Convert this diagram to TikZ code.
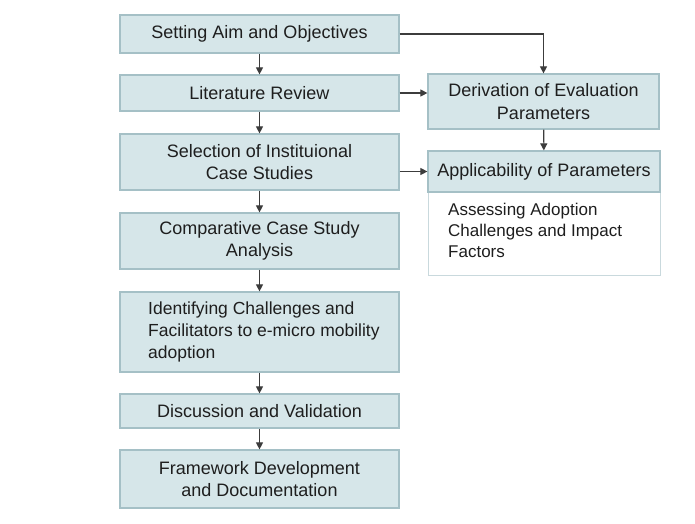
\documentclass[tikz,border=0pt]{standalone}
\usepackage{fontspec}
\setmainfont{Liberation Sans}
\usetikzlibrary{arrows.meta}
\definecolor{boxfill}{RGB}{214,230,233}
\definecolor{boxline}{RGB}{165,192,198}
\definecolor{arr}{RGB}{60,60,60}
\definecolor{txt}{RGB}{30,30,30}
\tikzset{
  box/.style={draw=boxline, line width=1.2pt, fill=boxfill, text=txt, inner sep=0pt,
    font=\fontsize{18}{22.5}\selectfont, align=center},
  con/.style={draw=arr, line width=1.1pt, -{Triangle[length=7pt,width=7pt]}},
}
\begin{document}
\begin{tikzpicture}[x=1pt,y=-1pt]
\useasboundingbox (0,0) rectangle (695,523);
\fill[white] (0,0) rectangle (695,523);
% left column
\node[box, minimum width=279pt, minimum height=38pt] (s1) at (259.5,34) {Setting Aim and Objectives};
\node[box, minimum width=279pt, minimum height=36pt] (s2) at (259.5,93) {Literature Review};
\node[box, minimum width=279pt, minimum height=56pt] (s3) at (259.5,162) {Selection of Instituional\\Case Studies};
\node[box, minimum width=279pt, minimum height=56pt] (s4) at (259.5,241) {Comparative Case Study\\Analysis};
\node[box, minimum width=279pt, minimum height=80pt] (s5) at (259.5,332) {};
\node[anchor=west, text=txt, align=left, inner sep=0pt, font=\fontsize{17.5}{22}\selectfont] (s5t) at (148,332) {Identifying Challenges and\\Facilitators to e-micro mobility\\adoption};
\node[box, minimum width=279pt, minimum height=34pt] (s6) at (259.5,411) {Discussion and Validation};
\node[box, minimum width=279pt, minimum height=58pt] (s7) at (259.5,479) {Framework Development\\and Documentation};
% right column
\node[box, minimum width=231pt, minimum height=55pt] (d) at (543.5,101.5) {Derivation of Evaluation\\Parameters};
\node[draw=boxline!60!white, line width=1pt, fill=white, minimum width=232pt, minimum height=124pt, inner sep=0pt] (ab) at (544,213) {};
\node[box, minimum width=232pt, minimum height=41pt] (ah) at (544,171.5) {Applicability of Parameters};
\node[anchor=north west, text=txt, align=left, font=\fontsize{17}{21}\selectfont, inner sep=0pt] (at) at (448,203) {Assessing Adoption\\Challenges and Impact\\Factors};
% connectors
\draw[con] (s1) -- (s2);
\draw[con] (s2) -- (s3);
\draw[con] (s3) -- (s4);
\draw[con] (s4) -- (s5);
\draw[con] (s5) -- (s6);
\draw[con] (s6) -- (s7);
\draw[con] (s1.east) -| (d.north);
\draw[con] (s2.east) -- (s2.east -| d.west);
\draw[con] (s3.east |- ah.west) -- (ah.west);
\draw[con] (d) -- (ah);
\end{tikzpicture}
\end{document}
